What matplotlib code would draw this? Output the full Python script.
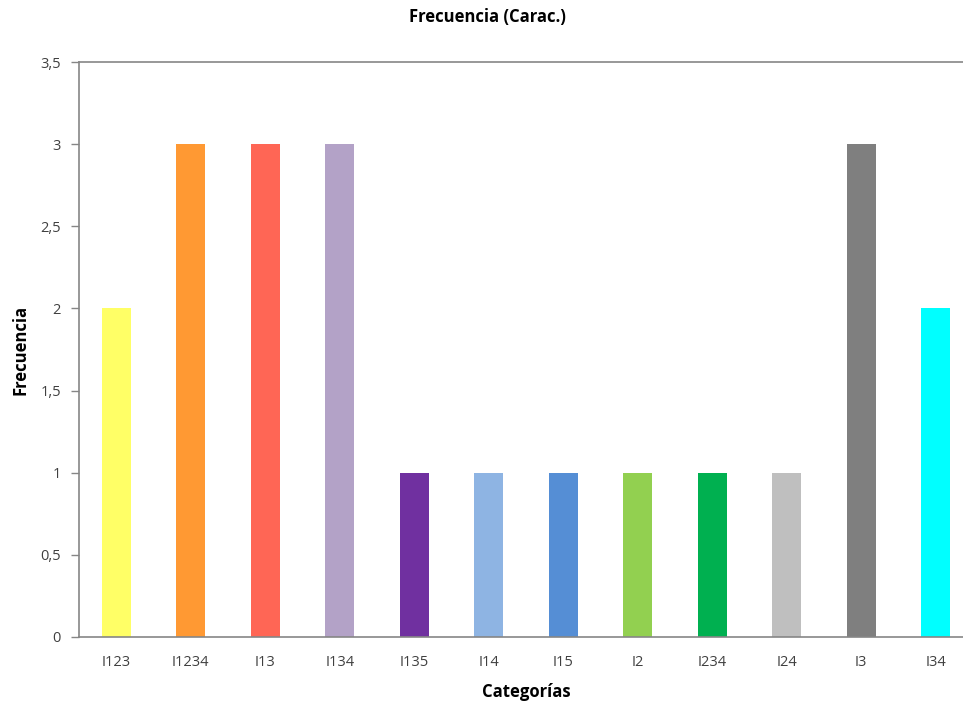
import matplotlib
matplotlib.use('Agg')
import matplotlib.pyplot as plt

# Data
categorias = ['I123', 'I1234', 'I13', 'I134', 'I135', 'I14', 'I15', 'I2', 'I234', 'I24', 'I3', 'I34']
frecuencia = [2, 3, 3, 3, 1, 1, 1, 1, 1, 1, 3, 2]
colores = ['#FFFF66', '#FF9933', '#FF6655', '#B3A2C7', '#7030A0', '#8EB4E3',
           '#558ED5', '#92D050', '#00B050', '#BFBFBF', '#7F7F7F', '#00FFFF']
yticks = [0, 0.5, 1, 1.5, 2, 2.5, 3, 3.5]
ytick_labels = ['0', '0,5', '1', '1,5', '2', '2,5', '3', '3,5']

plt.rcParams['font.family'] = ['Open Sans', 'DejaVu Sans']

fig = plt.figure(figsize=(9.63, 7.08), dpi=100)
ax = fig.add_axes([79 / 963, 71 / 708, 894 / 963, 575 / 708])

x = range(len(categorias))
ax.bar(x, frecuencia, width=0.39, color=colores, zorder=2)

ax.set_xlim(-0.5, len(categorias) - 0.5)
ax.set_ylim(0, 3.5)
ax.set_xticks(list(x))
ax.set_xticklabels(categorias, fontsize=10.5, color='#404040')
ax.set_yticks(yticks)
ax.set_yticklabels(ytick_labels, fontsize=10.5, color='#404040')
ax.tick_params(axis='x', length=0, pad=13)
ax.tick_params(axis='y', length=6, color='#868686', width=1, pad=7)

ax.spines['right'].set_visible(False)
for side in ['left', 'bottom', 'top']:
    ax.spines[side].set_color('#868686')
    ax.spines[side].set_linewidth(1.2)

ax.set_xlabel('Categorías', fontsize=12, fontweight='bold', labelpad=9)
ax.set_ylabel('Frecuencia', fontsize=12, fontweight='bold', labelpad=8)
fig.text(487 / 963, 1 - 17 / 708, 'Frecuencia (Carac.)', ha='center', va='center',
         fontsize=12, fontweight='bold')

fig.savefig('out.png', dpi=100)
